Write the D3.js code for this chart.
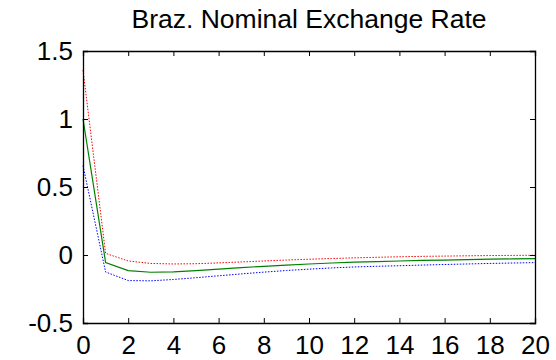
<!DOCTYPE html>
<html><head><meta charset="utf-8">
<script src="https://cdn.jsdelivr.net/npm/d3@7"></script>
<style>body{margin:0;background:#fff;} svg{display:block;font-family:"Liberation Sans",Arial,sans-serif;}</style>
</head><body>
<script>
const periods = d3.range(0, 21);
const median = [1.0,-0.055,-0.115,-0.127,-0.124,-0.115,-0.104,-0.093,-0.083,-0.074,-0.066,-0.059,-0.053,-0.048,-0.044,-0.040,-0.037,-0.034,-0.031,-0.029,-0.027];
const upper = [1.36,0.012,-0.044,-0.062,-0.066,-0.064,-0.058,-0.051,-0.044,-0.037,-0.031,-0.026,-0.021,-0.017,-0.013,-0.010,-0.008,-0.006,-0.004,-0.003,-0.002];
const lower = [0.657,-0.125,-0.188,-0.19,-0.18,-0.167,-0.153,-0.139,-0.126,-0.114,-0.104,-0.095,-0.088,-0.083,-0.079,-0.074,-0.070,-0.066,-0.062,-0.059,-0.056];
const xTicks = [0,2,4,6,8,10,12,14,16,18,20];
const yTicks = [-0.5,0,0.5,1,1.5];
const title = "Braz. Nominal Exchange Rate";

const W = 556, H = 360;
const m = {left:83, right:21, top:51, bottom:37};
const svg = d3.select("body").append("svg").attr("width",W).attr("height",H);
const x = d3.scaleLinear().domain([0,20]).range([m.left, W-m.right]);
const y = d3.scaleLinear().domain([-0.5,1.5]).range([H-m.bottom, m.top]);

const line = d3.line().x((d,i)=>x(periods[i])).y(d=>y(d));
svg.append("path").datum(upper).attr("d",line).attr("fill","none").attr("stroke","#ff0000").attr("stroke-width",1).attr("stroke-dasharray","1.5,1.5");
svg.append("path").datum(lower).attr("d",line).attr("fill","none").attr("stroke","#0000ff").attr("stroke-width",1).attr("stroke-dasharray","1.5,1.5");
svg.append("path").datum(median).attr("d",line).attr("fill","none").attr("stroke","#008000").attr("stroke-width",1.2);

const fs = "26px";
const gB = svg.append("g").attr("transform",`translate(0,${H-m.bottom})`)
  .call(d3.axisBottom(x).tickValues(xTicks).tickSize(-5).tickPadding(13).tickFormat(d3.format("d")));
const gT = svg.append("g").attr("transform",`translate(0,${m.top})`)
  .call(d3.axisTop(x).tickValues(xTicks).tickSize(-5).tickFormat(""));
const gL = svg.append("g").attr("transform",`translate(${m.left},0)`)
  .call(d3.axisLeft(y).tickValues(yTicks).tickSize(-5).tickPadding(10).tickFormat(d=>String(d)));
const gR = svg.append("g").attr("transform",`translate(${W-m.right},0)`)
  .call(d3.axisRight(y).tickValues(yTicks).tickSize(-5).tickFormat(""));
[gB,gT,gL,gR].forEach(g=>{
  g.selectAll("path.domain").attr("stroke","#000").attr("stroke-width",1.3);
  g.selectAll("line").attr("stroke","#000").attr("stroke-width",1);
  g.selectAll("text").attr("fill","#000").style("font-size",fs).style("font-family","'Liberation Sans',Arial,sans-serif");
});

svg.append("text").attr("x",(m.left + W-m.right)/2).attr("y",28)
  .attr("text-anchor","middle").style("font-size","26.5px").attr("fill","#000").text(title);
</script>
</body></html>
